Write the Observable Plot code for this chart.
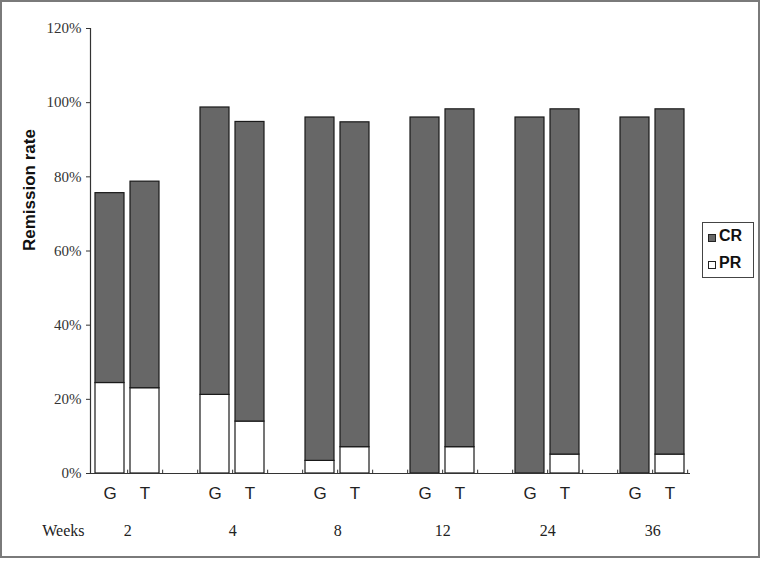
<!DOCTYPE html>
<html><head><meta charset="utf-8">
<script src="https://cdn.jsdelivr.net/npm/d3@7"></script>
<script src="https://cdn.jsdelivr.net/npm/@observablehq/plot@0.6"></script>
<style>
body{margin:0;background:#fff;}
#wrap{position:relative;width:762px;height:564px;}
#frame{position:absolute;left:0;top:0;width:760px;height:558px;border:2px solid #7a7a7a;box-sizing:border-box;pointer-events:none}
#legend{position:absolute;left:702px;top:222px;width:52px;height:56px;border:1px solid #444;box-sizing:border-box;font:bold 16px Arial,"Liberation Sans",sans-serif;color:#111;background:#fff}
#legend .sw{position:absolute;width:8px;height:8px;border:1px solid #222;box-sizing:border-box}
#legend .lb{position:absolute;line-height:16px;}
</style>
</head><body>
<div id="wrap">
  <div id="chart"></div>
  <div id="legend"></div>
  <div id="frame"></div>
</div>
<script>
const weeks = ["2","4","8","12","24","36"];
const groups = ["G","T"];
const series = ["CR","PR"];
const seriesColors = ["#676767","#ffffff"];
const totalG = [75.6, 98.7, 96.0, 96.0, 96.0, 96.0];
const prG    = [24.4, 21.2, 3.4, 0, 0, 0];
const totalT = [78.7, 94.8, 94.7, 98.2, 98.2, 98.2];
const prT    = [23.0, 14.0, 7.1, 7.1, 5.1, 5.1];
const yTicks = [0, 20, 40, 60, 80, 100, 120];

const W = 762, H = 564, ML = 90, MR = 72, MT = 28, MB = 91;

const cats = [];
weeks.forEach((w, i) => {
  cats.push(w + "-G", w + "-T");
  if (i < weeks.length - 1) cats.push(w + "-gap");
});
const half = (W - ML - MR) / cats.length / 2;

const rows = [];
const barCats = [];
weeks.forEach((w, i) => {
  const vals = {G: [totalG[i], prG[i]], T: [totalT[i], prT[i]]};
  groups.forEach(g => {
    const [tot, pr] = vals[g];
    rows.push({cat: w + "-" + g, series: "PR", value: pr});
    rows.push({cat: w + "-" + g, series: "CR", value: +(tot - pr).toFixed(2)});
    barCats.push({cat: w + "-" + g, group: g});
  });
});
const weekRows = weeks.map(w => ({cat: w + "-G", week: w}));

const serif = "Liberation Serif, Times New Roman, serif";
const sans = "Arial, Liberation Sans, sans-serif";

const chart = Plot.plot({
  width: W, height: H,
  marginLeft: ML, marginRight: MR, marginTop: MT, marginBottom: MB,
  style: {background: "transparent", overflow: "visible"},
  x: {type: "band", domain: cats, paddingInner: 0.16, paddingOuter: 0.08, axis: null},
  y: {domain: [0, 120], axis: null},
  color: {domain: series, range: seriesColors},
  marks: [
    Plot.axisY(yTicks, {tickSize: 4, tickPadding: 5, tickFormat: d => d + "%", fontSize: 15,
      fontFamily: serif, color: "#333", label: null}),
    Plot.barY(rows, {x: "cat", y: "value", fill: "series", stroke: "#1a1a1a", strokeWidth: 1.2, order: ["PR", "CR"]}),
    Plot.ruleY([0], {stroke: "#333", strokeWidth: 1.2}),
    Plot.frame({anchor: "left", stroke: "#333", strokeWidth: 1.2}),
    Plot.ruleX(cats, {x: d => d, dx: half, y1: 0, y2: 0.9, stroke: "#333"}),
    Plot.text(barCats, {x: "cat", text: "group", frameAnchor: "bottom", dy: 25, fontSize: 17,
      fontFamily: sans, fill: "#222"}),
    Plot.text(weekRows, {x: "cat", text: "week", dx: half, frameAnchor: "bottom", dy: 62, fontSize: 16,
      fontFamily: serif, fill: "#222"}),
    Plot.text(["Weeks"], {text: d => d, frameAnchor: "bottom-left", dx: -6, dy: 62, textAnchor: "end", fontSize: 16,
      fontFamily: serif, fill: "#222"}),
    Plot.text(["Remission rate"], {text: d => d, frameAnchor: "left", dx: -61, rotate: -90, fontSize: 17,
      fontWeight: "bold", fontFamily: sans, fill: "#111"})
  ]
});
document.getElementById("chart").appendChild(chart);

const legend = document.getElementById("legend");
series.forEach((s, i) => {
  const sw = document.createElement("div");
  sw.className = "sw";
  sw.style.left = "5px";
  sw.style.top = (11 + i * 27) + "px";
  sw.style.background = seriesColors[i];
  legend.appendChild(sw);
  const lb = document.createElement("div");
  lb.className = "lb";
  lb.style.left = "16px";
  lb.style.top = (5 + i * 27) + "px";
  lb.textContent = s;
  legend.appendChild(lb);
});
</script>
</body></html>
